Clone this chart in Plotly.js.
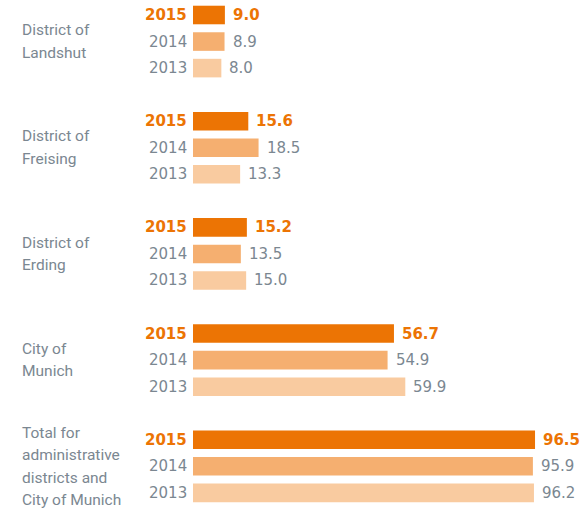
<!DOCTYPE html>
<html><head><meta charset="utf-8">
<script src="https://cdn.plot.ly/plotly-3.0.1.min.js"></script>
<style>html,body{margin:0;padding:0;background:#fff}#chart{width:585px;height:508px}</style>
</head><body><div id="chart"></div>
<script>
const categories = ['District of<br>Landshut','District of<br>Freising','District of<br>Erding','City of<br>Munich','Total for<br>administrative<br>districts and<br>City of Munich'];
const years = ['2015','2014','2013'];
const values2015 = [9.0, 15.6, 15.2, 56.7, 96.5];
const values2014 = [8.9, 18.5, 13.5, 54.9, 95.9];
const values2013 = [8.0, 13.3, 15.0, 59.9, 96.2];
const series = [values2015, values2014, values2013];
const colors = ['#EC7404', '#F5AF70', '#F9CBA0'];
const grey = '#7B8791';
const labelFont = 'Roboto, "Open Sans", sans-serif';
const numFont = '"DejaVu Sans", sans-serif';

const traces = series.map((vals, j) => ({
  type: 'bar', orientation: 'h',
  x: vals, y: vals.map((v, g) => g * 4 + j),
  width: 0.7, marker: {color: colors[j]}, hoverinfo: 'none', showlegend: false
}));

const annotations = [];
categories.forEach((c, g) => {
  const lines = c.split('<br>');
  lines.forEach((ln, k) => {
    annotations.push({xref: 'paper', yref: 'y', x: 0, y: g * 4 + 1, xshift: -173,
      yshift: -(k - (lines.length - 1) / 2) * 22.5,
      xanchor: 'left', yanchor: 'middle', align: 'left', showarrow: false, text: ln,
      font: {family: labelFont, size: 15.5, color: grey}});
  });
  series.forEach((vals, j) => {
    const bold = j === 0;
    annotations.push({xref: 'x', yref: 'y', x: 0, y: g * 4 + j, xshift: -4,
      xanchor: 'right', yanchor: 'middle', showarrow: false,
      text: bold ? '<b>' + years[j] + '</b>' : years[j],
      font: {family: numFont, size: 15, color: bold ? colors[0] : grey}});
    annotations.push({xref: 'x', yref: 'y', x: vals[g], y: g * 4 + j, xshift: 6,
      xanchor: 'left', yanchor: 'middle', showarrow: false,
      text: bold ? '<b>' + vals[g].toFixed(1) + '</b>' : vals[g].toFixed(1),
      font: {family: numFont, size: 15, color: bold ? colors[0] : grey}});
  });
});

const layout = {
  width: 585, height: 508,
  margin: {l: 193, r: 0, t: 0, b: 0},
  paper_bgcolor: '#fff', plot_bgcolor: '#fff',
  barmode: 'overlay',
  xaxis: {range: [0, 110.6], visible: false, fixedrange: true},
  yaxis: {range: [18.57, -0.565], visible: false, fixedrange: true},
  annotations: annotations
};
Plotly.newPlot('chart', traces, layout, {staticPlot: true, displayModeBar: false});
</script></body></html>
